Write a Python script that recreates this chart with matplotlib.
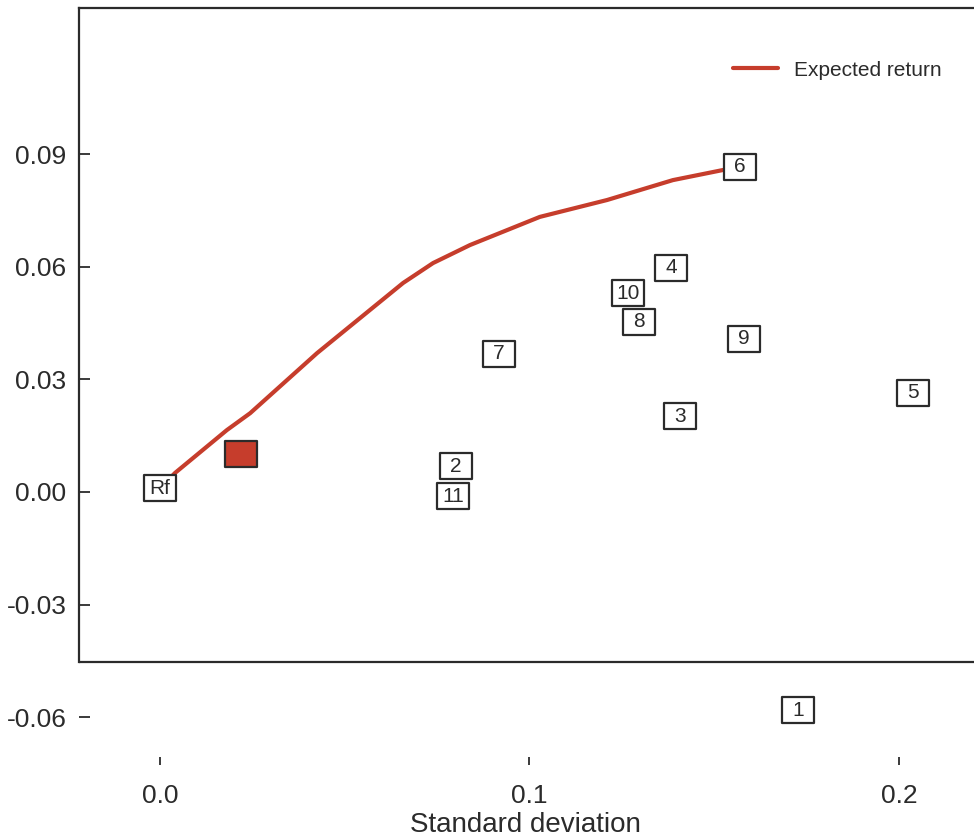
import matplotlib.pyplot as plt
from matplotlib.path import Path

plt.rcParams['font.family'] = ['Liberation Sans', 'DejaVu Sans']

# assets: (label, std dev, mean return)
labels = ['Rf', '1', '2', '3', '4', '5', '6', '7', '8', '9', '10', '11']
std_dev = [0.0, 0.1727, 0.0801, 0.1407, 0.1383, 0.2038, 0.1570, 0.0917, 0.1296, 0.1580, 0.1267, 0.0793]
mean_ret = [0.001, -0.0581, 0.0069, 0.0202, 0.0597, 0.0264, 0.0866, 0.0368, 0.0453, 0.0408, 0.0530, -0.0011]

# optimal portfolio (red square)
opt_x = [0.0219]
opt_y = [0.0101]

# expected return line
line_x = [0.0, 0.0041, 0.0181, 0.0244, 0.0425, 0.0658, 0.0739, 0.0839, 0.1028, 0.1210, 0.1388, 0.1524, 0.1570]
line_y = [0.001, 0.0051, 0.0165, 0.0210, 0.0370, 0.0557, 0.0610, 0.0658, 0.0733, 0.0778, 0.0831, 0.0858, 0.0866]

xticks = [0.0, 0.1, 0.2]
xticklabels = ['0.0', '0.1', '0.2']
yticks = [-0.06, -0.03, 0.0, 0.03, 0.06, 0.09]
yticklabels = ['-0.06', '-0.03', '0.00', '0.03', '0.06', '0.09']

red = '#c63d2c'
edge = '#2b2b2b'

W, H = 974, 839
fig = plt.figure(figsize=(W / 100, H / 100), dpi=100)
fig.patch.set_facecolor('white')
ax = fig.add_axes([79 / W, 1 - 765 / H, (W - 79) / W, (765 - 8) / H])

xlo, xhi = -0.02192, 0.2203
ylo, yhi = -0.07274, 0.12896
box_bottom = -0.0453
ax.set_xlim(xlo, xhi)
ax.set_ylim(ylo, yhi)

for s in ['right', 'bottom']:
    ax.spines[s].set_visible(False)
ax.spines['left'].set_bounds(box_bottom, yhi)
ax.spines['left'].set_linewidth(1.6)
ax.spines['left'].set_color(edge)
ax.spines['top'].set_linewidth(1.6)
ax.spines['top'].set_color(edge)
ax.axhline(box_bottom, color=edge, lw=1.6, zorder=1)

ax.set_xticks(xticks)
ax.set_xticklabels(xticklabels)
ax.set_yticks(yticks)
ax.set_yticklabels(yticklabels)
ax.tick_params(axis='y', direction='in', length=8, width=1.3, pad=9,
               labelsize=19, colors=edge)
ax.tick_params(axis='x', direction='in', length=6, width=1.3, pad=14,
               labelsize=19, colors=edge)
ax.set_xlabel('Standard deviation', fontsize=20, color=edge)
ax.xaxis.set_label_coords((525 - 79) / 895, (765 - 825) / 757)
ax.xaxis.label.set_va('center')

ax.plot(line_x, line_y, color=red, lw=3, solid_capstyle='round', zorder=2,
        label='Expected return')

rect = Path([(-16, -13), (16, -13), (16, 13), (-16, 13), (-16, -13)],
            [Path.MOVETO, Path.LINETO, Path.LINETO, Path.LINETO, Path.CLOSEPOLY])

ax.plot(std_dev, mean_ret, linestyle='none', marker=rect, markersize=23,
        markerfacecolor='white', markeredgecolor=edge, markeredgewidth=1.6,
        zorder=3, clip_on=False)
for lab, x, y in zip(labels, std_dev, mean_ret):
    ax.text(x, y, lab, ha='center', va='center', fontsize=15, color=edge,
            zorder=4)

ax.plot(opt_x, opt_y, linestyle='none', marker=rect, markersize=23,
        markerfacecolor=red, markeredgecolor=edge, markeredgewidth=1.6,
        zorder=3)

leg = ax.legend(loc='center left', bbox_to_anchor=((733 - 79) / 895, 1 - (70 - 8) / 757),
                frameon=False, fontsize=15, handlelength=2.15, handletextpad=0.8,
                borderpad=0, borderaxespad=0)
for t in leg.get_texts():
    t.set_color(edge)

fig.savefig('out.png', dpi=100)
